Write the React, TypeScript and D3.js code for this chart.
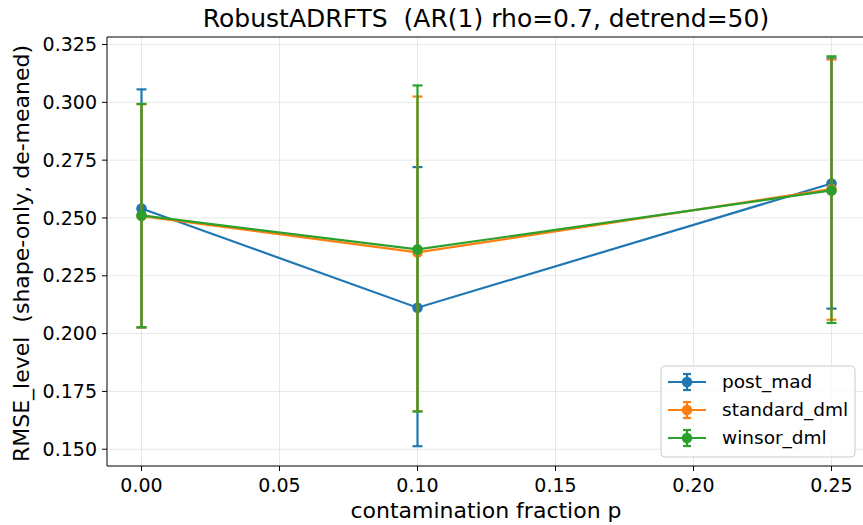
import React from 'react';
import * as d3 from 'd3';

// contamination fractions
const pValues = [0.0, 0.1, 0.25];

const seriesNames = ['post_mad', 'standard_dml', 'winsor_dml'];
const seriesColors = ['#1f77b4', '#ff7f0e', '#2ca02c'];

// mean RMSE and error bar bounds per series
const postMadMean = [0.2541, 0.2112, 0.2649];
const postMadLow = [0.2027, 0.1513, 0.2108];
const postMadHigh = [0.3056, 0.272, 0.319];

const standardMean = [0.2508, 0.2351, 0.2625];
const standardLow = [0.2027, 0.1665, 0.206];
const standardHigh = [0.2992, 0.3025, 0.3185];

const winsorMean = [0.2511, 0.2364, 0.2619];
const winsorLow = [0.2027, 0.1663, 0.2046];
const winsorHigh = [0.2993, 0.3073, 0.3199];

const xTicks = [0, 0.05, 0.1, 0.15, 0.2, 0.25];
const yTicks = [0.15, 0.175, 0.2, 0.225, 0.25, 0.275, 0.3, 0.325];

const W = 863;
const H = 525;
const margin = { top: 37, right: -3, bottom: 59, left: 107 };

export default function App() {
  const x = d3
    .scaleLinear()
    .domain([-0.0125, 0.2625])
    .range([margin.left, W - margin.right]);
  const y = d3
    .scaleLinear()
    .domain([0.14275, 0.32825])
    .range([H - margin.bottom, margin.top]);

  const series = [
    { mean: postMadMean, low: postMadLow, high: postMadHigh },
    { mean: standardMean, low: standardLow, high: standardHigh },
    { mean: winsorMean, low: winsorLow, high: winsorHigh },
  ];

  const line = d3
    .line<number>()
    .x((_, i) => x(pValues[i]))
    .y((d) => y(d));

  const font = 'DejaVu Sans, sans-serif';
  const cap = 5;

  return (
    <svg width={W} height={H} style={{ position: 'absolute', left: 0, top: 0, fontFamily: font }}>
      <rect width={W} height={H} fill="white" />
      {/* grid */}
      <g stroke="#b0b0b0" strokeOpacity={0.3} strokeWidth={1}>
        {xTicks.map((t) => (
          <line key={'gx' + t} x1={x(t)} x2={x(t)} y1={margin.top} y2={H - margin.bottom} />
        ))}
        {yTicks.map((t) => (
          <line key={'gy' + t} x1={margin.left} x2={W} y1={y(t)} y2={y(t)} />
        ))}
      </g>

      {/* series */}
      {series.map((s, si) => (
        <g key={seriesNames[si]} stroke={seriesColors[si]} fill={seriesColors[si]}>
          {pValues.map((p, i) => (
            <g key={i} strokeWidth={2.2}>
              <line x1={x(p)} x2={x(p)} y1={y(s.low[i])} y2={y(s.high[i])} />
              <line x1={x(p) - cap} x2={x(p) + cap} y1={y(s.low[i])} y2={y(s.low[i])} />
              <line x1={x(p) - cap} x2={x(p) + cap} y1={y(s.high[i])} y2={y(s.high[i])} />
            </g>
          ))}
          <path d={line(s.mean) || ''} fill="none" strokeWidth={2.2} />
          {s.mean.map((v, i) => (
            <circle key={i} cx={x(pValues[i])} cy={y(v)} r={5.3} stroke="none" />
          ))}
        </g>
      ))}

      {/* spines */}
      <g stroke="#000" strokeWidth={1} fill="none">
        <line x1={margin.left} x2={margin.left} y1={margin.top} y2={H - margin.bottom} />
        <line x1={margin.left} x2={W} y1={H - margin.bottom} y2={H - margin.bottom} />
        <line x1={margin.left} x2={W} y1={margin.top} y2={margin.top} />
      </g>

      {/* x axis */}
      <g fontSize={19} fill="#000">
        {xTicks.map((t) => (
          <g key={'xt' + t}>
            <line x1={x(t)} x2={x(t)} y1={H - margin.bottom} y2={H - margin.bottom + 5} stroke="#000" />
            <text x={x(t)} y={H - margin.bottom + 26} textAnchor="middle">
              {d3.format('.2f')(t)}
            </text>
          </g>
        ))}
      </g>
      {/* y axis */}
      <g fontSize={19} fill="#000">
        {yTicks.map((t) => (
          <g key={'yt' + t}>
            <line x1={margin.left - 5} x2={margin.left} y1={y(t)} y2={y(t)} stroke="#000" />
            <text x={margin.left - 10} y={y(t)} dy="0.35em" textAnchor="end">
              {d3.format('.3f')(t)}
            </text>
          </g>
        ))}
      </g>

      <text x={486} y={518} textAnchor="middle" fontSize={22}>
        contamination fraction p
      </text>
      <text
        transform={`translate(29, ${(margin.top + H - margin.bottom) / 2 + 2}) rotate(-90)`}
        textAnchor="middle"
        fontSize={22}
        style={{ whiteSpace: 'pre' }}
      >
        {'RMSE_level  (shape-only, de-meaned)'}
      </text>
      <text x={486} y={27} textAnchor="middle" fontSize={25} style={{ whiteSpace: 'pre' }}>
        {'RobustADRFTS  (AR(1) rho=0.7, detrend=50)'}
      </text>

      {/* legend */}
      <g>
        <rect x={661} y={366} width={194} height={91} rx={4} fill="white" fillOpacity={0.8} stroke="#cccccc" />
        {seriesNames.map((name, i) => {
          const ly = 382 + i * 28;
          return (
            <g key={name} stroke={seriesColors[i]} fill={seriesColors[i]}>
              <line x1={668} x2={706} y1={ly} y2={ly} strokeWidth={2.2} />
              <line x1={687} x2={687} y1={ly - 8} y2={ly + 8} strokeWidth={2.2} />
              <line x1={683} x2={691} y1={ly - 8} y2={ly - 8} strokeWidth={2.2} />
              <line x1={683} x2={691} y1={ly + 8} y2={ly + 8} strokeWidth={2.2} />
              <circle cx={687} cy={ly} r={5.3} stroke="none" />
              <text x={722} y={ly} dy="0.35em" fontSize={18.5} fill="#000" stroke="none">
                {name}
              </text>
            </g>
          );
        })}
      </g>
    </svg>
  );
}
